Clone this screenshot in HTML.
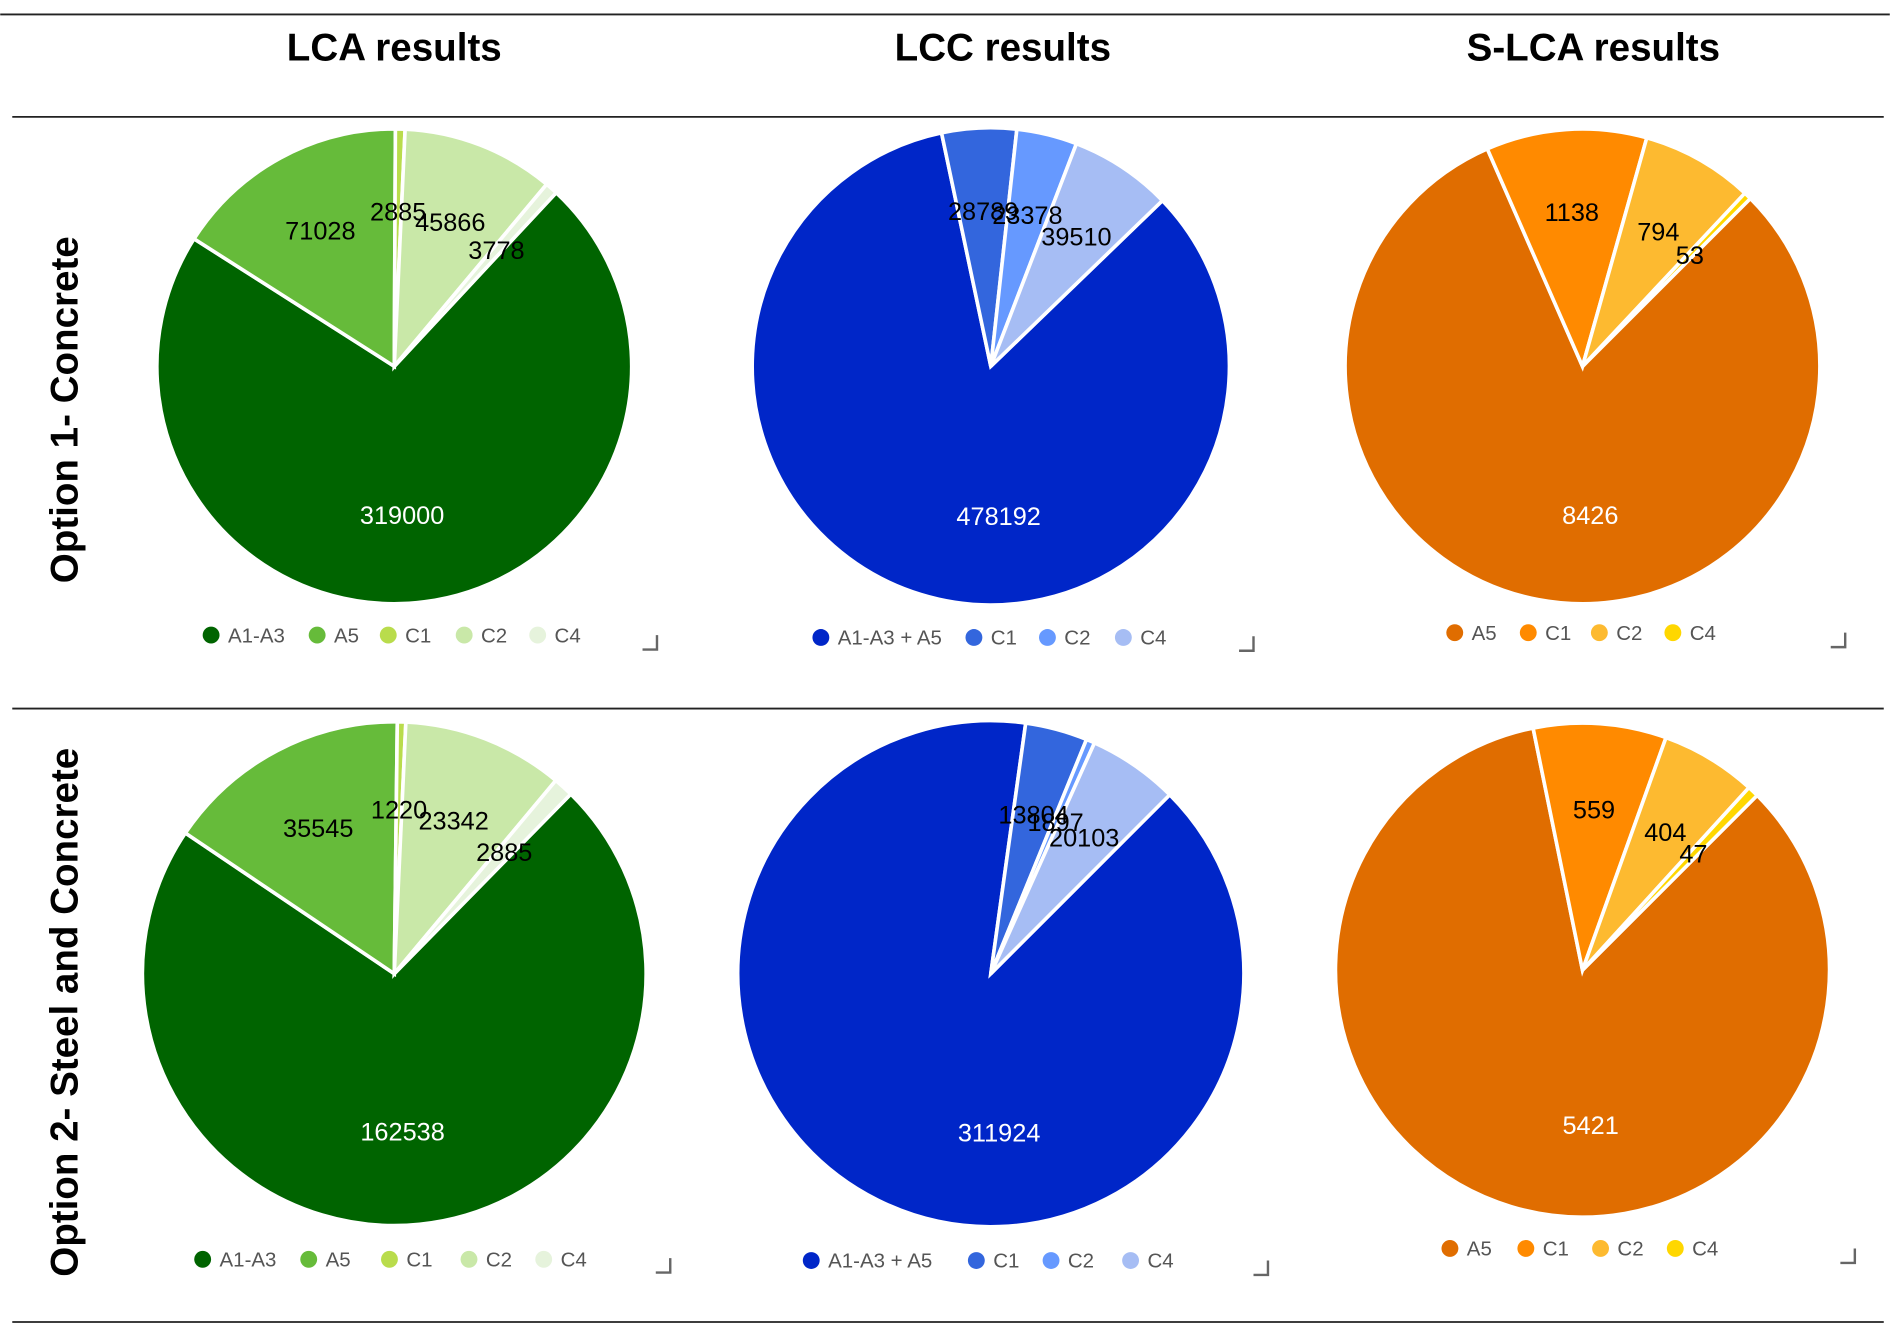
<!DOCTYPE html>
<html><head><meta charset="utf-8"><style>
html,body{margin:0;padding:0;background:#fff;}
svg{display:block;}
</style></head><body>
<svg width="1890" height="1328" viewBox="0 0 1568 1102" xmlns="http://www.w3.org/2000/svg" font-family="Liberation Sans, Arial, sans-serif">
<rect x="0" y="0" width="1568" height="1102" fill="#fff"/>
<line x1="0" y1="12" x2="1568" y2="12" stroke="#222" stroke-width="1.5"/>
<line x1="10" y1="97" x2="1563" y2="97" stroke="#222" stroke-width="1.5"/>
<line x1="10" y1="588" x2="1563" y2="588" stroke="#222" stroke-width="1.5"/>
<line x1="10" y1="1097" x2="1563" y2="1097" stroke="#222" stroke-width="1.5"/>
<g font-weight="bold" font-size="32" text-anchor="middle" fill="#000">
<text x="327" y="50">LCA results</text>
<text x="832" y="50">LCC results</text>
<text x="1322" y="50">S-LCA results</text>
<text transform="translate(64,340) rotate(-90)">Option 1- Concrete</text>
<text transform="translate(64,840) rotate(-90)">Option 2- Steel and Concrete</text>
</g>
<g id="charts"></g>
</svg>
<script>
const lcaCategories = ["A1-A3","A5","C1","C2","C4"];
const lccCategories = ["A1-A3 + A5","C1","C2","C4"];
const slcaCategories = ["A5","C1","C2","C4"];
const lca1Values = [319000,71028,2885,45866,3778];
const lcc1Values = [478192,28789,23378,39510];
const slca1Values = [8426,1138,794,53];
const lca2Values = [162538,35545,1220,23342,2885];
const lcc2Values = [311924,13804,1897,20103];
const slca2Values = [5421,559,404,47];
const lcaColors = ["#006400","#66bb3a","#b9dc4c","#c9e8a8","#e6f3dc"];
const lccColors = ["#0026c8","#3366dd","#6699ff","#a6bdf4"];
const slcaColors = ["#e06d00","#ff8a00","#fdba30","#ffd700"];

const charts = [
 {name:"lca-option1",cats:lcaCategories,vals:lca1Values,cols:lcaColors,cx:327,cy:304,r:197,start:43,legY:527,legX:[175,263,322,385,446]},
 {name:"lcc-option1",cats:lccCategories,vals:lcc1Values,cols:lccColors,cx:822,cy:304,r:198,start:46,legY:529,legX:[681,808,869,932]},
 {name:"slca-option1",cats:slcaCategories,vals:slca1Values,cols:slcaColors,cx:1313,cy:304,r:197,start:45,legY:525,legX:[1207,1268,1327,1388]},
 {name:"lca-option2",cats:lcaCategories,vals:lca2Values,cols:lcaColors,cx:327,cy:808,r:209,start:44.5,legY:1045,legX:[168,256,323,389,451]},
 {name:"lcc-option2",cats:lccCategories,vals:lcc2Values,cols:lccColors,cx:822,cy:808,r:210,start:45,legY:1046,legX:[673,810,872,938]},
 {name:"slca-option2",cats:slcaCategories,vals:slca2Values,cols:slcaColors,cx:1313,cy:805,r:205,start:45,legY:1036,legX:[1203,1266,1328,1390]}
];
const corners=[[541,535],[1036,536],[1527,533],[552,1052],[1048,1054],[1535,1044]];
const NS="http://www.w3.org/2000/svg";
const root=document.getElementById("charts");
function pt(cx,cy,r,deg){const a=deg*Math.PI/180;return [cx+r*Math.sin(a),cy-r*Math.cos(a)];}
charts.forEach((c,ci)=>{
 const g=document.createElementNS(NS,"g");
 
 
 root.appendChild(g);
 const total=c.vals.reduce((a,b)=>a+b,0);
 let ang=c.start;
 const labels=[];
 c.vals.forEach((v,i)=>{
  const sweep=v/total*360;
  const p0=pt(c.cx,c.cy,c.r,ang), p1=pt(c.cx,c.cy,c.r,ang+sweep);
  const path=document.createElementNS(NS,"path");
  path.setAttribute("d",`M${c.cx},${c.cy} L${p0[0]},${p0[1]} A${c.r},${c.r} 0 ${sweep>180?1:0} 1 ${p1[0]},${p1[1]} Z`);
  path.setAttribute("fill",c.cols[i]);
  path.setAttribute("stroke","#fff");
  path.setAttribute("stroke-width","3");
  
  
  g.appendChild(path);
  const mid=ang+sweep/2;
  const lp=i===0?pt(c.cx,c.cy,c.r*0.63,177):pt(c.cx,c.cy,c.r*0.65,mid);
  labels.push([lp,v,i]);
  ang+=sweep;
 });
 labels.forEach(([lp,v,i])=>{
  const t=document.createElementNS(NS,"text");
  t.setAttribute("x",lp[0]);t.setAttribute("y",lp[1]+7);
  t.setAttribute("text-anchor","middle");t.setAttribute("font-size","21");
  t.setAttribute("fill",i===0?"#fff":"#000");
  t.textContent=v;
  
  
  g.appendChild(t);
 });
 c.cats.forEach((cat,i)=>{
  const lg=document.createElementNS(NS,"g");
  
  
  const ci2=document.createElementNS(NS,"circle");
  ci2.setAttribute("cx",c.legX[i]);ci2.setAttribute("cy",c.legY);ci2.setAttribute("r","7");
  ci2.setAttribute("fill",c.cols[i]);
  lg.appendChild(ci2);
  const t=document.createElementNS(NS,"text");
  t.setAttribute("x",c.legX[i]+14);t.setAttribute("y",c.legY+6);
  t.setAttribute("font-size","17");t.setAttribute("fill","#555");
  t.textContent=cat;
  lg.appendChild(t);
  g.appendChild(lg);
 });
 const k=corners[ci];
 const m=document.createElementNS(NS,"path");
 m.setAttribute("d",`M${k[0]-8},${k[1]+4} L${k[0]+4},${k[1]+4} L${k[0]+4},${k[1]-8}`);
 m.setAttribute("stroke","#666");m.setAttribute("stroke-width","2");m.setAttribute("fill","none");
 
 
 g.appendChild(m);
});
</script>
</body></html>
